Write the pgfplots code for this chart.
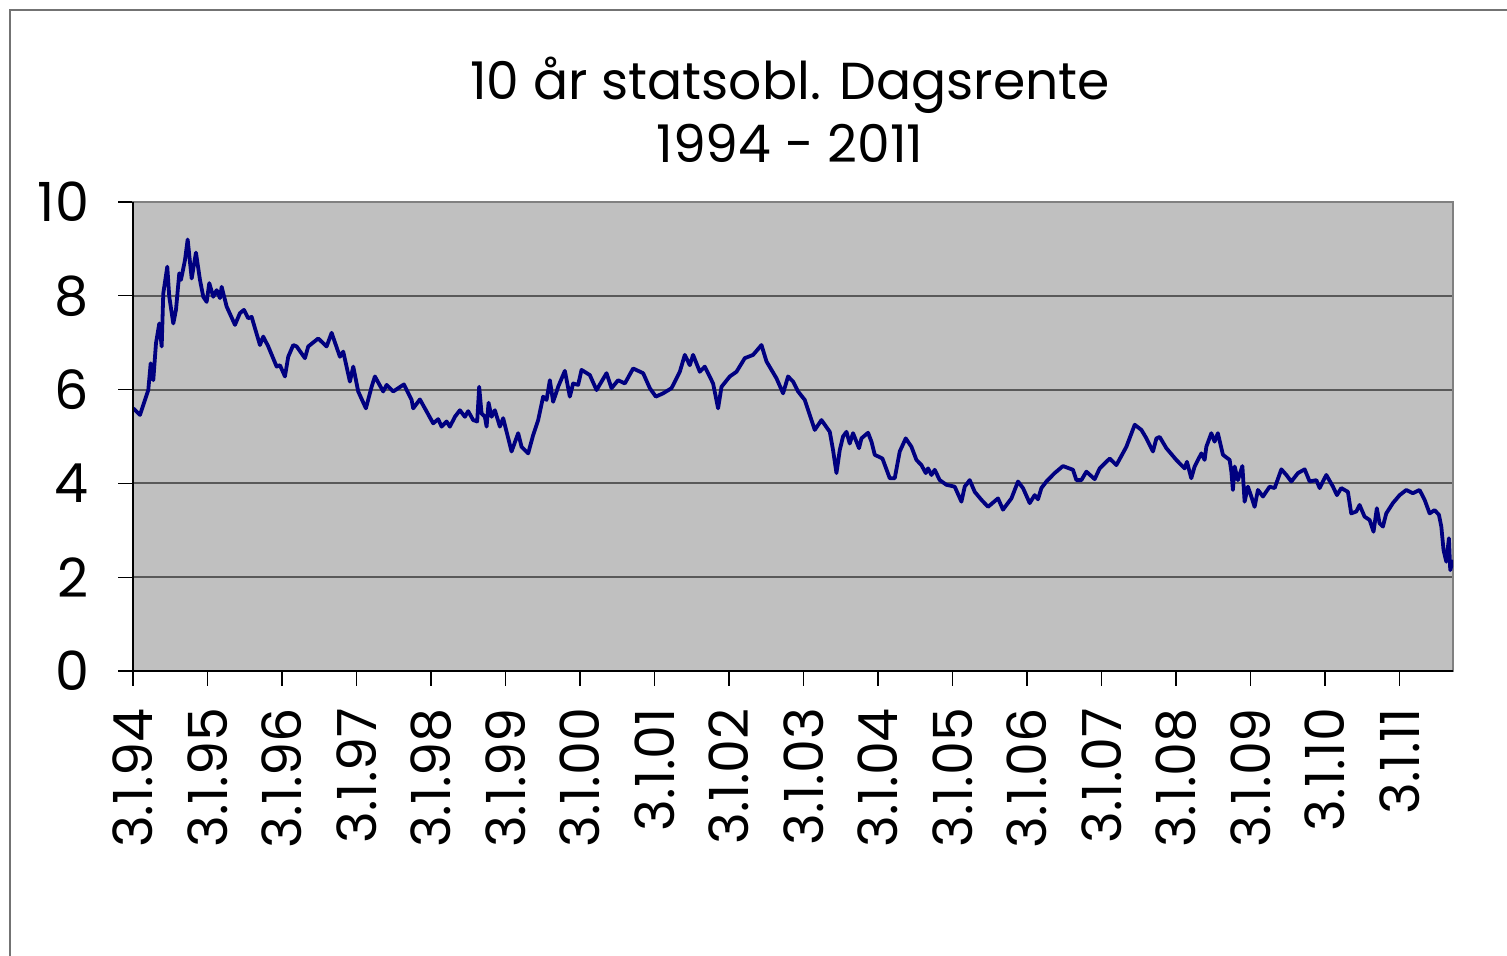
\documentclass[border=0pt]{standalone}
\usepackage{fontspec}
\setmainfont{Poppins}
\usepackage{pgfplots}
\pgfplotsset{compat=1.18}
\usepackage{pgfplotstable}
\definecolor{bg}{HTML}{C0C0C0}
\definecolor{navyline}{HTML}{000080}
\pgfplotstableread{
px val
133.3 5.60
140 5.46
145 5.78
148.3 5.99
150.7 6.56
153.3 6.20
156 6.99
159.3 7.41
161.7 6.92
163.3 8.05
167.3 8.62
169.3 7.98
173.3 7.41
176 7.70
179.3 8.48
181 8.34
185 8.76
187.7 9.20
191.7 8.37
196 8.92
200 8.34
203.3 7.98
206.7 7.87
209.3 8.27
213.3 7.98
216.7 8.12
220 7.95
221.7 8.19
226.7 7.77
235 7.38
240 7.63
244 7.70
248.3 7.52
251.7 7.55
255 7.31
260 6.95
263.3 7.13
268.3 6.92
276.7 6.49
280 6.52
285 6.28
288.3 6.70
293.3 6.95
296.7 6.92
305 6.67
308.3 6.92
318.3 7.09
326.7 6.92
331.7 7.21
340 6.70
343.3 6.81
350 6.17
353.3 6.49
358.3 5.96
366 5.60
371.7 6.06
375 6.28
383.3 5.96
386.7 6.10
393.3 5.96
398.3 6.03
404 6.11
411.7 5.78
413.3 5.60
420 5.79
425 5.60
433.3 5.28
438.3 5.37
441.7 5.21
446.7 5.32
450 5.21
455 5.42
460 5.56
465 5.42
468.3 5.54
473.3 5.35
477.3 5.32
479.3 6.06
481.7 5.49
485 5.42
486.7 5.21
488.7 5.72
491.7 5.42
495 5.56
500 5.21
503.3 5.39
511.7 4.68
518.3 5.07
521.7 4.78
528.3 4.64
533.3 5.03
538.3 5.35
543.3 5.85
546.7 5.78
550 6.20
553.3 5.74
558.3 6.06
565 6.40
570 5.85
573.3 6.13
578.3 6.10
581.7 6.42
590 6.31
596.7 5.99
606.7 6.35
611.7 6.03
618.3 6.20
625 6.13
633.3 6.45
643.3 6.35
650 6.03
656 5.85
663.3 5.92
671.7 6.03
680 6.38
685 6.74
690 6.52
693.3 6.74
700 6.38
705 6.49
713.3 6.13
718.3 5.60
721.7 6.06
730 6.28
736.7 6.38
745 6.67
753.3 6.74
761.7 6.95
766.7 6.60
776.7 6.24
783.3 5.92
788.3 6.28
793.3 6.17
798.3 5.96
805 5.78
815 5.14
821.7 5.35
830 5.10
833.3 4.71
836.7 4.22
840 4.71
843.3 5.00
846.7 5.10
850 4.85
853.3 5.07
859.3 4.75
861.7 4.96
868.3 5.08
871.7 4.89
875 4.61
882.7 4.53
890 4.11
895 4.11
900 4.68
906 4.96
911.7 4.78
916.7 4.50
921.7 4.39
926 4.22
928.3 4.32
931.7 4.18
935 4.29
940 4.07
946.7 3.97
955 3.93
961.7 3.61
965 3.93
970 4.07
975 3.82
981.7 3.65
988.3 3.50
998.3 3.68
1003.3 3.44
1011.7 3.68
1018.3 4.04
1023.3 3.90
1030 3.58
1035 3.75
1038.3 3.66
1041.7 3.90
1046.7 4.04
1055 4.22
1063.3 4.37
1073.3 4.29
1076.7 4.07
1081.7 4.07
1086.7 4.25
1095 4.09
1100 4.32
1110 4.53
1116.7 4.39
1126.7 4.78
1135 5.25
1141.7 5.14
1146.7 4.96
1153.3 4.68
1156.7 4.96
1160 4.99
1166.7 4.75
1176.7 4.50
1185 4.32
1187.3 4.46
1191.7 4.11
1195 4.36
1201.7 4.64
1205 4.50
1206.7 4.78
1211.7 5.07
1215 4.89
1218.3 5.07
1223.3 4.61
1230 4.50
1231.7 4.25
1233.3 3.86
1235 4.36
1238.3 4.07
1242.7 4.37
1245 3.61
1248.3 3.93
1251.7 3.72
1255 3.50
1258.3 3.86
1263.3 3.72
1270 3.93
1275 3.90
1281.7 4.30
1286.7 4.18
1291.7 4.04
1298.3 4.22
1305 4.30
1310 4.04
1316.7 4.07
1320 3.90
1326.7 4.18
1333.3 3.93
1337.3 3.75
1341.7 3.90
1348.3 3.82
1351.7 3.36
1356.7 3.40
1360 3.54
1365 3.29
1370 3.22
1374 2.97
1377.3 3.47
1380 3.15
1383.3 3.08
1386.7 3.36
1393.3 3.58
1400 3.75
1406.7 3.86
1413.3 3.79
1420 3.86
1425 3.65
1430 3.36
1435 3.43
1439.3 3.33
1441.7 3.08
1444 2.58
1446.7 2.33
1449.3 2.83
1450.7 2.15
1453.3 2.37
}\ratedata

\begin{document}
\begin{tikzpicture}
\useasboundingbox (0,0) rectangle (753.5pt,478pt);
\fill[white] (0,0) rectangle (753.5pt,478pt);
\draw[black!55, line width=0.8pt] (5pt,0) -- (5pt,473pt) -- (753.5pt,473pt);
\begin{axis}[
  at={(66.5pt,142.5pt)}, anchor=south west,
  scale only axis, width=660pt, height=234.5pt,
  xmin=1994, xmax=2011.717, ymin=0, ymax=10,
  xtick={1994,1995,1996,1997,1998,1999,2000,2001,2002,2003,2004,2005,2006,2007,2008,2009,2010,2011},
  xticklabels={3.1.94,3.1.95,3.1.96,3.1.97,3.1.98,3.1.99,3.1.00,3.1.01,3.1.02,3.1.03,3.1.04,3.1.05,3.1.06,3.1.07,3.1.08,3.1.09,3.1.10,3.1.11},
  ytick={0,2,4,6,8,10},
  axis background/.style={fill=bg},
  ymajorgrids,
  grid style={draw=black!65, line width=1pt},
  axis line style={draw=black!50, line width=0.8pt},
  tick align=outside, xtick pos=bottom, ytick pos=left,
  major tick length=7.5pt,
  tick style={black, line width=0.6pt},
  ticklabel style={font=\fontsize{27}{27}\selectfont},
  xticklabel style={rotate=90, anchor=east, xshift=-7.5pt},
  yticklabel style={anchor=east, xshift=-11pt},
  /pgf/number format/assume math mode=true,
]
\addplot[navyline, line width=1.9pt, line join=round] table[x expr={1994+(\thisrow{px}-133)/74.53}, y=val] {\ratedata};
\end{axis}
\draw[black, line width=0.9pt] (66.5pt,377pt) -- (66.5pt,142.5pt) -- (726.5pt,142.5pt);
\node[anchor=base, font=\fontsize{26}{26}\selectfont, inner sep=0pt] at (395pt,428pt) {10 år statsobl. Dagsrente};
\node[anchor=base, font=\fontsize{26}{26}\selectfont, inner sep=0pt] at (395pt,396.5pt) {1994 - 2011};
\end{tikzpicture}
\end{document}
